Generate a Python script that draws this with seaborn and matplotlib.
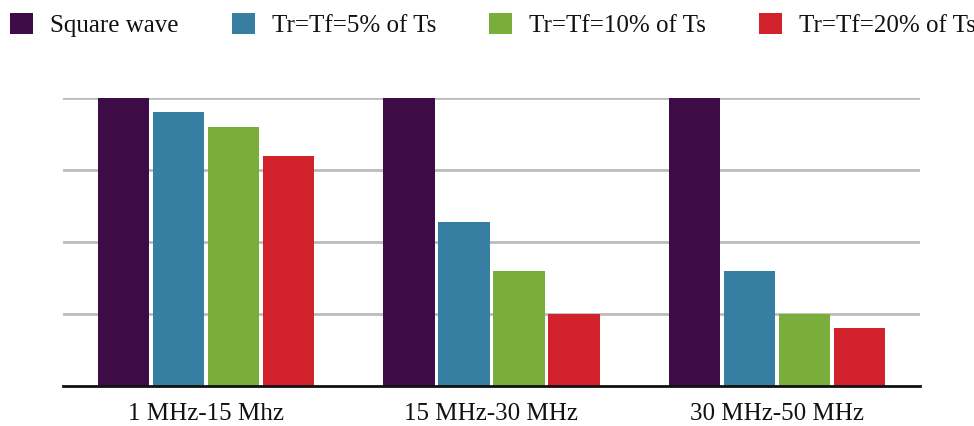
import matplotlib
matplotlib.use("Agg")
import matplotlib.pyplot as plt
from matplotlib.patches import Patch
import seaborn as sns
import pandas as pd

# Frequency bands and relative amplitude (%) for each edge-rate setting
bands = ["1 MHz-15 Mhz", "15 MHz-30 MHz", "30 MHz-50 MHz"]
series = ["Square wave", "Tr=Tf=5% of Ts", "Tr=Tf=10% of Ts", "Tr=Tf=20% of Ts"]
square_wave = [100, 100, 100]
tr_5 = [95, 57, 40]
tr_10 = [90, 40, 25]
tr_20 = [80, 25, 20]
colors = ["#3d0b46", "#367ea2", "#7aae3c", "#d1222c"]

rows = []
for name, vals in zip(series, [square_wave, tr_5, tr_10, tr_20]):
    for band, v in zip(bands, vals):
        rows.append({"band": band, "series": name, "value": v})
df = pd.DataFrame(rows)

sns.set_style("white")
plt.rcParams["font.family"] = ["Liberation Serif", "DejaVu Serif"]

fig = plt.figure(figsize=(9.74, 4.26), dpi=100)
ax = fig.add_axes([63 / 974, 40 / 426, 857 / 974, 288 / 426])

sns.barplot(data=df, x="band", y="value", hue="series", hue_order=series,
            palette=colors, width=0.77, gap=0.07, saturation=1,
            edgecolor="none", linewidth=0, ax=ax, legend=False)

ax.set_ylim(0, 100)
ax.set_xlim(-0.5, 2.5)
ax.set_yticks([25, 50, 75, 100])
ax.set_yticklabels([])
ax.tick_params(axis="y", length=0)
ax.tick_params(axis="x", length=0, labelsize=18, pad=12, colors="#111111")
ax.yaxis.grid(True, color="#bcbcbc", linewidth=2)
ax.set_axisbelow(True)
ax.set_xlabel("")
ax.set_ylabel("")
for side in ["left", "right", "top"]:
    ax.spines[side].set_visible(False)
ax.spines["bottom"].set_color("#111111")
ax.spines["bottom"].set_linewidth(2)

handles = [Patch(facecolor=c, edgecolor="none") for c in colors]
fig.legend(handles, series, loc="upper left", bbox_to_anchor=(0.0, 0.993),
           borderaxespad=0, borderpad=0.4, ncol=4, frameon=False,
           fontsize=18, handlelength=0.92, handleheight=0.92,
           handletextpad=0.68, columnspacing=2.12, labelcolor="#111111")

fig.savefig("out.png", dpi=100)
